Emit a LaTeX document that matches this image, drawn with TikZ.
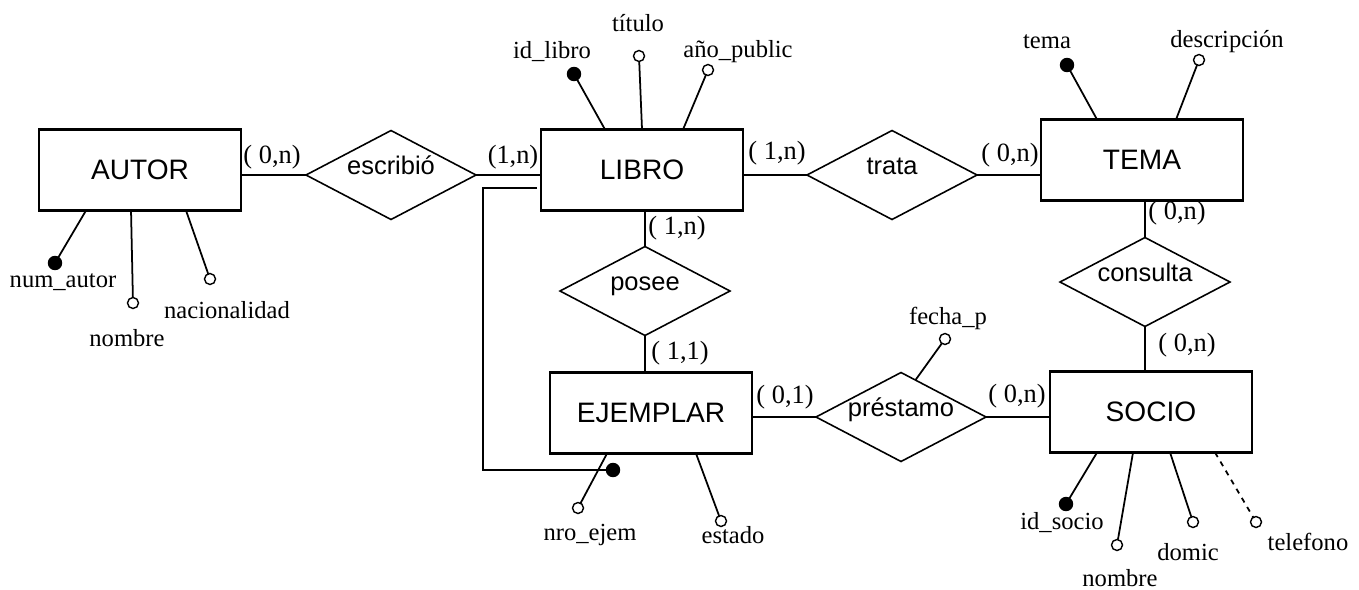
\documentclass[tikz,border=0pt]{standalone}
\usepackage{fontspec}
\setmainfont{Liberation Serif}
\setsansfont{Liberation Sans}
\usetikzlibrary{shapes.geometric,calc}

\tikzset{
    entity/.style={draw, rectangle, line width=1.4pt, minimum width=4.04cm, minimum height=1.62cm,
        inner sep=0pt, outer sep=0pt, font=\sffamily\fontsize{16}{18}\selectfont},
    relation/.style={draw, diamond, aspect=2, line width=0.9pt, minimum width=3.4cm, minimum height=1.78cm,
        inner sep=0pt, outer sep=0pt, text height=8pt, text depth=8.4pt, font=\sffamily\fontsize{14.5}{16}\selectfont},
    keyattr/.style={circle, draw, fill=black, line width=0.8pt, minimum size=0.26cm, inner sep=0pt, outer sep=0pt},
    attr/.style={circle, draw, fill=white, line width=0.8pt, minimum size=0.22cm, inner sep=0pt, outer sep=0pt},
    attrname/.style={inner sep=0pt, font=\fontsize{14}{16}\selectfont},
    card/.style={inner sep=0pt, font=\fontsize{15}{17}\selectfont},
    link/.style={line width=1pt},
}

\begin{document}
\begin{tikzpicture}[x=0.02cm, y=-0.02cm]
            \useasboundingbox (0,0) rectangle (1359,589);

            \node[entity] (autor) at (140,170) {AUTOR};
            \node[entity] (libro) at (642,170) {LIBRO};
            \node[entity] (tema) at (1142,160) {TEMA};
            \node[entity] (ejemplar) at (651,413) {EJEMPLAR};
            \node[entity] (socio) at (1151,412) {SOCIO};

            \node[relation] (escribio) at (391,175) {escribió};
            \node[relation] (trata) at (892,175) {trata};
            \node[relation] (posee) at (645,291) {posee};
            \node[relation] (consulta) at (1145,282) {consulta};
            \node[relation] (prestamo) at (901,417) {préstamo};

            \node[keyattr] (numautor) at (55,263) {};
            \node[attr] (nombreautor) at (133,303) {};
            \node[attr] (nacionalidad) at (210,279) {};
            \node[keyattr] (idlibro) at (574,74) {};
            \node[attr] (titulo) at (639,56) {};
            \node[attr] (anio) at (708,70) {};
            \node[keyattr] (idtema) at (1067,65) {};
            \node[attr] (descripcion) at (1199,60) {};
            \node[attr] (nroejem) at (578,508) {};
            \node[attr] (estado) at (721,521) {};
            \node[keyattr] (ejemkey) at (613,470) {};
            \node[attr] (fechap) at (945,339) {};
            \node[keyattr] (idsocio) at (1066,504) {};
            \node[attr] (nombresocio) at (1117,545) {};
            \node[attr] (domic) at (1193,522) {};
            \node[attr] (telefono) at (1256,522) {};

            \node[attrname] at (63,282) {num\_autor};
            \node[attrname] at (127,338) {nombre};
            \node[attrname] at (227,310) {nacionalidad};
            \node[attrname] at (552,52) {id\_libro};
            \node[attrname] at (638,23) {título};
            \node[attrname] at (738,52) {año\_public};
            \node[attrname] at (1047,42) {tema};
            \node[attrname] at (1227,42) {descripción};
            \node[attrname] at (590,535) {nro\_ejem};
            \node[attrname] at (733,535) {estado};
            \node[attrname] at (948,318) {fecha\_p};
            \node[attrname] at (1062,523) {id\_socio};
            \node[attrname] at (1120,578) {nombre};
            \node[attrname] at (1188,552) {domic};
            \node[attrname] at (1308,542) {telefono};

            \node[card] at (272,157) {( 0,n)};
            \node[card] at (513,157) {(1,n)};
            \node[card] at (777,153) {( 1,n)};
            \node[card] at (1010,155) {( 0,n)};
            \node[card] at (1177,213) {( 0,n)};
            \node[card] at (677,228) {( 1,n)};
            \node[card] at (680,353) {( 1,1)};
            \node[card] at (785,397) {( 0,1)};
            \node[card] at (1017,396) {( 0,n)};
            \node[card] at (1187,345) {( 0,n)};

            \coordinate (lk) at (537,188);

            \draw[link] (escribio.west) -- (escribio.west -| autor.east);
            \draw[link] (escribio.east) -- (escribio.east -| libro.west);
            \draw[link] (trata.west) -- (trata.west -| libro.east);
            \draw[link] (trata.east) -- (trata.east -| tema.west);
            \draw[link] (posee.north) -- (posee.north |- libro.south);
            \draw[link] (posee.south) -- (posee.south |- ejemplar.north);
            \draw[link] (consulta.north) -- (consulta.north |- tema.south);
            \draw[link] (consulta.south) -- (consulta.south |- socio.north);
            \draw[link] (prestamo.west) -- (prestamo.west -| ejemplar.east);
            \draw[link] (prestamo.east) -- (prestamo.east -| socio.west);

            \draw[link] (autor.south west) ++(47,0) -- (numautor);
            \draw[link] (autor.south west) ++(92,0) -- (nombreautor);
            \draw[link] (autor.south west) ++(147,0) -- (nacionalidad);
            \draw[link] (libro.north west) ++(64,0) -- (idlibro);
            \draw[link] (libro.north west) ++(101,0) -- (titulo);
            \draw[link] (libro.north west) ++(142,0) -- (anio);
            \draw[link] (tema.north west) ++(56,0) -- (idtema);
            \draw[link] (tema.north west) ++(135,0) -- (descripcion);
            \draw[link] (ejemplar.south west) ++(57,0) -- (nroejem);
            \draw[link] (ejemplar.south west) ++(146,0) -- (estado);
            \draw[link] ($(prestamo.north)!0.17!(prestamo.east)$) -- (fechap);
            \draw[link] (socio.south west) ++(47,0) -- (idsocio);
            \draw[link] (socio.south west) ++(83,0) -- (nombresocio);
            \draw[link] (socio.south west) ++(120,0) -- (domic);
            \draw[link, dashed] (socio.south west) ++(165,0) -- (telefono);

            \draw[link] (lk) -- ++(-54,0) |- (ejemkey);
        \end{tikzpicture}
\end{document}
